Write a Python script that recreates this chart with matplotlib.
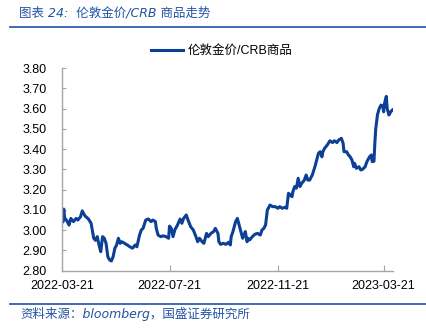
import matplotlib
matplotlib.use("Agg")
import matplotlib.pyplot as plt
import matplotlib.dates as mdates
from matplotlib.lines import Line2D
import pandas as pd

start_date = "2022-03-21"
day_offsets = [0, 1, 2, 3, 5, 8, 10, 13, 16, 18, 21, 23, 26, 30, 33, 34, 36, 38, 40, 42,
               44, 46, 48, 50, 52, 54, 56, 58, 60, 62, 64, 66, 68, 71, 74, 77, 80, 83, 85, 88,
               90, 92, 95, 98, 101, 103, 106, 107, 109, 112, 115, 118, 121, 122, 124, 126, 128, 131, 134, 136,
               138, 141, 143, 146, 149, 152, 154, 156, 159, 161, 164, 166, 169, 172, 174, 177, 178, 180, 183, 186,
               189, 191, 192, 194, 197, 199, 201, 203, 205, 208, 210, 211, 213, 216, 219, 222, 225, 227, 229, 231,
               233, 236, 239, 242, 245, 247, 250, 253, 255, 257, 259, 261, 262, 264, 266, 268, 270, 272, 275, 277,
               279, 281, 284, 287, 289, 291, 293, 295, 296, 298, 301, 304, 307, 309, 312, 314, 317, 319, 320, 323,
               325, 327, 329, 331, 332, 334, 337, 339, 341, 344, 346, 349, 351, 352, 354, 355, 356, 358, 360, 362,
               364, 365, 366, 368, 369, 371, 373, 375]
ratio_values = [3.07, 3.04, 3.104, 3.06, 3.05, 3.025, 3.058, 3.042, 3.058, 3.05, 3.066, 3.095, 3.071, 3.055, 3.034, 3.009, 2.96, 2.95, 2.968, 2.927,
                2.894, 2.968, 2.96, 2.935, 2.869, 2.853, 2.848, 2.869, 2.911, 2.927, 2.96, 2.935, 2.943, 2.935, 2.927, 2.918, 2.911, 2.927, 2.918, 2.976,
                3.001, 3.009, 3.05, 3.055, 3.042, 3.05, 3.042, 3.009, 2.976, 2.968, 2.972, 2.968, 2.96, 3.02, 3.009, 2.968, 3.001, 3.025, 3.055, 3.034,
                3.058, 3.075, 3.05, 3.017, 3.001, 2.968, 2.943, 2.96, 2.943, 2.935, 2.984, 2.968, 2.984, 2.993, 3.009, 2.984, 2.943, 2.930, 2.935, 2.930,
                2.94, 2.927, 2.968, 2.993, 3.042, 3.058, 3.025, 2.993, 2.96, 2.993, 2.943, 2.96, 2.952, 2.968, 2.98, 2.984, 2.976, 3.001, 3.009, 3.025,
                3.099, 3.124, 3.116, 3.116, 3.108, 3.116, 3.108, 3.113, 3.108, 3.182, 3.174, 3.165, 3.19, 3.215, 3.207, 3.256, 3.215, 3.231, 3.247, 3.272,
                3.247, 3.247, 3.272, 3.313, 3.346, 3.379, 3.387, 3.362, 3.387, 3.404, 3.42, 3.441, 3.432, 3.441, 3.432, 3.445, 3.453, 3.428, 3.387, 3.387,
                3.371, 3.362, 3.346, 3.313, 3.33, 3.305, 3.313, 3.297, 3.30, 3.313, 3.338, 3.362, 3.371, 3.338, 3.34, 3.43, 3.50, 3.57, 3.60, 3.617,
                3.612, 3.584, 3.626, 3.66, 3.60, 3.568, 3.584, 3.593]

series_label = "伦敦金价/CRB商品"
tick_dates = ["2022-03-21", "2022-07-21", "2022-11-21", "2023-03-21"]
y_ticks = [2.80, 2.90, 3.00, 3.10, 3.20, 3.30, 3.40, 3.50, 3.60, 3.70, 3.80]
title_text = "图表 24:  伦敦金价/CRB 商品走势"
source_text = "资料来源：bloomberg，国盛证券研究所"

dates = pd.Timestamp(start_date) + pd.to_timedelta(day_offsets, unit="D")

plt.rcParams['font.family'] = ['Liberation Sans', 'Noto Sans CJK SC', 'DejaVu Sans']

W, H = 427, 329
fig = plt.figure(figsize=(W / 100, H / 100), dpi=100)
ax = fig.add_axes([62 / W, 1 - 270.7 / H, (393 - 62) / W, (270.7 - 68) / H])

line_color = "#0C3F95"
ax.plot(dates, ratio_values, color=line_color, lw=2.2, label=series_label,
        solid_joinstyle="round")

ax.set_ylim(2.80, 3.80)
ax.set_yticks(y_ticks)
ax.set_yticklabels([f"{v:.2f}" for v in y_ticks])
ax.set_xlim(pd.Timestamp(start_date), pd.Timestamp(start_date) + pd.Timedelta(days=375.6))
ax.set_xticks(pd.to_datetime(tick_dates))
ax.xaxis.set_major_formatter(mdates.DateFormatter("%Y-%m-%d"))

for s in ["top", "right"]:
    ax.spines[s].set_visible(False)
for s in ["left", "bottom"]:
    ax.spines[s].set_color("#A6A6A6")
    ax.spines[s].set_linewidth(1.0)
ax.tick_params(axis="y", direction="in", length=3, color="#A6A6A6", pad=11, labelsize=9)
ax.tick_params(axis="x", direction="in", length=4, color="#A6A6A6", pad=7, labelsize=9)

leg = fig.legend(loc="center", bbox_to_anchor=(222 / W, 1 - 51 / H), frameon=False,
                 fontsize=9, handlelength=2.5, handletextpad=0.4)

title_color = "#2253A3"
fig.text(19 / W, 1 - 13 / H, title_text, color=title_color, fontsize=9, style="italic",
         family=['DejaVu Sans', 'Noto Sans CJK SC'], va="center", ha="left")
fig.add_artist(Line2D([10 / W, 1.0], [1 - 27 / H, 1 - 27 / H], color="#2E60AE", lw=1.3))
fig.add_artist(Line2D([10 / W, 1.0], [1 - 304 / H, 1 - 304 / H], color="#2E60AE", lw=1.3))
fig.text(20 / W, 1 - 314 / H, source_text, color=title_color, fontsize=9, style="italic",
         family=['DejaVu Sans', 'Noto Sans CJK SC'], va="center", ha="left")

fig.savefig("out.png", dpi=100)
